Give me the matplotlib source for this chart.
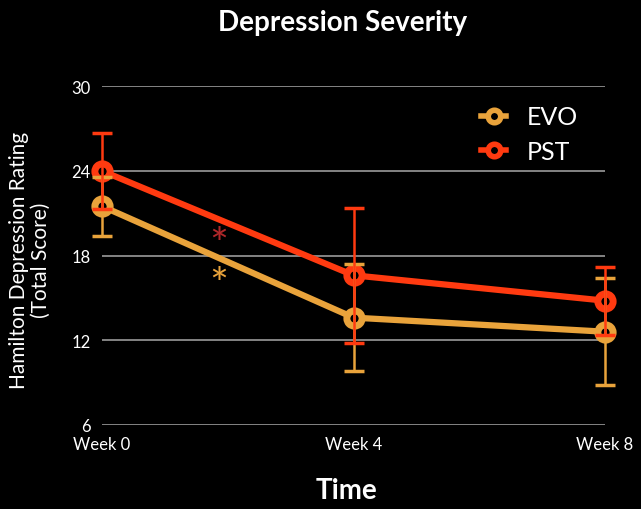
import matplotlib
matplotlib.use('Agg')
import matplotlib.pyplot as plt
from matplotlib.lines import Line2D

weeks = [0, 4, 8]
week_labels = ['Week 0', 'Week 4', 'Week 8']
evo = [21.5, 13.6, 12.6]
evo_err = [2.1, 3.8, 3.8]
pst = [24.0, 16.6, 14.8]
pst_err = [2.7, 4.8, 2.4]
yticks = [6, 12, 18, 24, 30]

c_evo = '#E9A33B'
c_pst = '#FF3A10'
c_star = '#B0282A'

plt.rcParams['font.family'] = ['Lato', 'DejaVu Sans']

fig = plt.figure(figsize=(6.41, 5.10), dpi=100, facecolor='black')
ax = fig.add_axes([0.159, 0.165, 0.785, 0.664])
ax.set_facecolor('black')

for y in yticks:
    ax.axhline(y, color='#9a9a9a', lw=1.2, zorder=1)

ax.plot(weeks, evo, color=c_evo, lw=4.5, marker='o', ms=11, mew=5,
        mfc='black', mec=c_evo, zorder=3, clip_on=False)
ax.plot(weeks, pst, color=c_pst, lw=4.5, marker='o', ms=11, mew=5,
        mfc='black', mec=c_pst, zorder=4, clip_on=False)
ax.errorbar(weeks, evo, yerr=evo_err, fmt='none', ecolor=c_evo, elinewidth=1.8,
            capsize=7, capthick=2.5, zorder=5, clip_on=False)
ax.errorbar(weeks, pst, yerr=pst_err, fmt='none', ecolor=c_pst, elinewidth=1.8,
            capsize=7, capthick=2.5, zorder=6, clip_on=False)

# significance markers
ax.text(1.85, 18.7, '*', color=c_star, fontsize=32, ha='center', va='center')
ax.text(1.85, 15.9, '*', color=c_evo, fontsize=32, ha='center', va='center')

ax.set_xlim(0, 8)
ax.set_ylim(6, 30)
ax.set_xticks(weeks)
ax.set_xticklabels(week_labels)
ax.set_yticks(yticks)
ax.tick_params(colors='white', length=0, labelsize=12, pad=8)
for s in ax.spines.values():
    s.set_visible(False)

handles = [Line2D([0], [0], color=c_evo, lw=4, marker='o', ms=9, mew=4, mfc='black', mec=c_evo),
           Line2D([0], [0], color=c_pst, lw=4, marker='o', ms=9, mew=4, mfc='black', mec=c_pst)]
leg = ax.legend(handles, ['EVO', 'PST'], loc='upper right', bbox_to_anchor=(0.99, 1.01),
                frameon=False, fontsize=18, handlelength=1.0, handletextpad=0.8,
                labelspacing=0.45, labelcolor='white')

fig.text(0.534, 0.955, 'Depression Severity', color='white', fontsize=20,
         fontweight='bold', ha='center', va='center')
fig.text(0.541, 0.037, 'Time', color='white', fontsize=20,
         fontweight='bold', ha='center', va='center')
fig.text(0.047, 0.49, 'Hamilton Depression Rating\n(Total Score)', color='white',
         fontsize=15, rotation=90, ha='center', va='center', linespacing=1.1)

fig.savefig('out.png', dpi=100, facecolor='black')
